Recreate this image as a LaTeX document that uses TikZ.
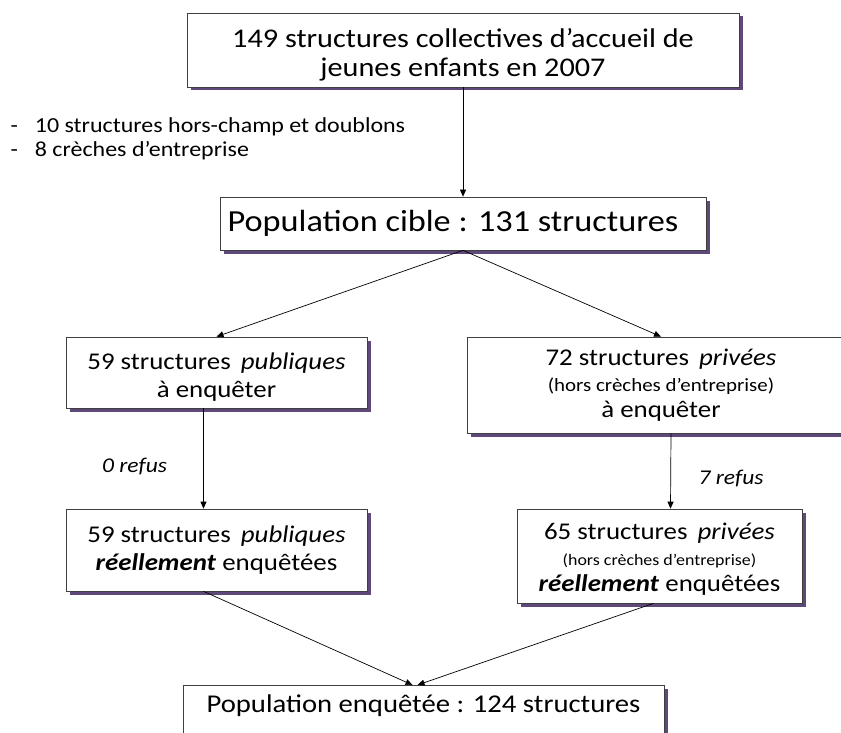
\documentclass[tikz,border=0pt]{standalone}
\usepackage{fontspec}
\setmainfont[FakeStretch=1.12]{Carlito}
\usetikzlibrary{arrows.meta,shadows}
\definecolor{shpurple}{HTML}{5F497A}
\tikzset{
    boite/.style={draw=black!75, line width=0.7pt, fill=white, align=center,
        inner sep=3pt,
        drop shadow={shadow xshift=3.5pt, shadow yshift=-3.5pt, fill=shpurple, opacity=1}},
    fleche/.style={-{Triangle[length=7pt,width=6pt]}, line width=0.7pt, black},
}

\begin{document}
\begin{tikzpicture}[x=1pt,y=1pt]
    \useasboundingbox (0,0) rectangle (841,-733);

    \node[boite, minimum width=552pt, minimum height=74pt, font=\fontsize{27}{29}\selectfont] (titre) at (463,-50)
        {\rule{0pt}{28pt}149 structures collectives d'accueil de\\jeunes enfants en 2007};
    \node[boite, minimum width=486pt, minimum height=53pt, font=\fontsize{30.6}{34}\selectfont] (cible) at (463,-223.5)
        {Population cible : 131 structures\hspace*{20pt}};

    \node[boite, minimum width=301pt, minimum height=71pt, font=\fontsize{24}{28}\selectfont] (pubA) at (216.5,-372.5)
        {\rule{0pt}{26pt}59 structures \,\textit{publiques}\\à enquêter};
    \node[boite, minimum width=388pt, minimum height=96pt, font=\fontsize{24}{26}\selectfont] (privA) at (661,-385)
        {72 structures \,\textit{privées}\\{\fontsize{18.7}{21}\selectfont (hors crèches d'entreprise)}\\à enquêter};

    \node[boite, minimum width=301pt, minimum height=82pt, font=\fontsize{24}{28}\selectfont] (pubB) at (216.5,-550)
        {59 structures \,\textit{publiques}\\\textbf{\textit{réellement}} enquêtées};
    \node[boite, minimum width=285pt, minimum height=94pt, font=\fontsize{24}{26}\selectfont] (privB) at (659.5,-556)
        {\rule{0pt}{22pt}65 structures \,\textit{privées}\\{\fontsize{16}{19}\selectfont (hors crèches d'entreprise)}\\\textbf{\textit{réellement}} enquêtées};

    \node[boite, minimum width=481pt, anchor=north, inner sep=4pt, text height=23pt, text depth=34pt,
        font=\fontsize{25.6}{30}\selectfont] (total) at (423.5,-685)
        {Population enquêtée : 124 structures};

    % textes libres
    \node[anchor=west, align=left, font=\fontsize{21.4}{24}\selectfont] (exclus) at (7,-139)
        {-\hspace{17pt}10 structures hors-champ et doublons\\-\hspace{17pt}8 crèches d'entreprise};
    \node[font=\fontsize{21}{24}\itshape] (refusA) at (134.5,-467) {0 refus};
    \node[font=\fontsize{21}{24}\itshape] (refusB) at (731,-479) {7 refus};

    % fleches
    \draw[fleche] (titre.south) -- (cible.north);
    \draw[fleche] (cible.south) -- (pubA.north);
    \draw[fleche] (cible.south) -- (privA.north);
    \draw[fleche] ([xshift=-13pt]pubA.south) -- ([xshift=-13pt]pubB.north);
    \draw[fleche] ([xshift=10pt]privA.south) -- ([xshift=11pt]privB.north);
    \draw[fleche] ([xshift=-13pt]pubB.south) -- ([xshift=-11pt]total.north);
    \draw[fleche] ([xshift=-6pt]privB.south) -- ([xshift=-6pt]total.north);
\end{tikzpicture}
\end{document}
